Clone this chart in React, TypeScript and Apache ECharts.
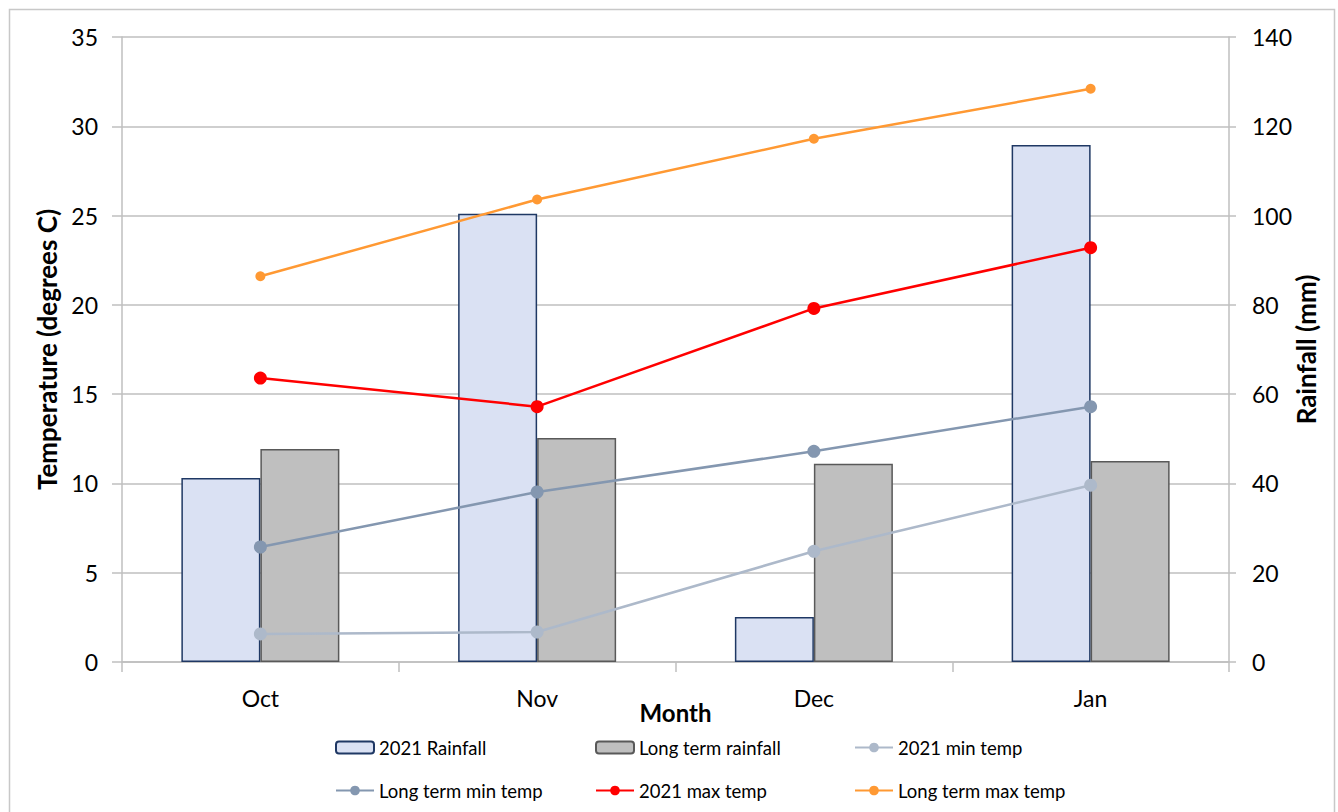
import React, { useEffect, useRef } from "react";
import * as echarts from "echarts";

const months = ["Oct", "Nov", "Dec", "Jan"];
const rain2021 = [41.2, 100.4, 10.1, 115.8];
const rainLongTerm = [47.7, 50.2, 44.4, 45.0];
const minTemp2021 = [1.57, 1.68, 6.2, 9.9];
const minTempLongTerm = [6.44, 9.52, 11.8, 14.3];
const maxTemp2021 = [15.9, 14.3, 19.8, 23.2];
const maxTempLongTerm = [21.6, 25.9, 29.3, 32.1];

const FONT = "Lato";

export default function App() {
  const ref = useRef<HTMLDivElement>(null);
  useEffect(() => {
    const chart = echarts.init(ref.current!, null, { renderer: "svg" });
    const lineSeries = (name: string, data: number[], color: string, size: number) => ({
      name,
      type: "line",
      yAxisIndex: 0,
      data,
      symbol: "circle",
      symbolSize: size,
      itemStyle: { color },
      lineStyle: { color, width: 2.5 },
      z: 5,
    });
    const legendText = { fontFamily: FONT, fontSize: 18.5, color: "#000" };
    const mkLegend = (name: string, left: number, top: number) => ({
      data: [name],
      left,
      top,
      itemWidth: 38,
      itemHeight: 12,
      itemGap: 4,
      textStyle: legendText,
      padding: 0,
      selectedMode: false,
    });
    const titleStyle = { fontFamily: FONT, fontSize: 26, fontWeight: "bold", color: "#000" };
    const tickLabel = { fontFamily: FONT, fontSize: 23, color: "#000" };
    chart.setOption({
      animation: false,
      backgroundColor: "#fff",
      textStyle: { fontFamily: FONT },
      graphic: [
        {
          type: "rect",
          shape: { x: 9.5, y: 9.5, width: 1325, height: 810 },
          style: { fill: "none", stroke: "#c8c8c8", lineWidth: 1.5 },
          silent: true,
        },
      ],
      grid: { left: 122, right: 109, top: 37, bottom: 150 },
      legend: [
        mkLegend("2021 Rainfall", 335, 738),
        mkLegend("Long term rainfall", 595, 738),
        mkLegend("2021 min temp", 854, 738),
        mkLegend("Long term min temp", 335, 781),
        mkLegend("2021 max temp", 595, 781),
        mkLegend("Long term max temp", 854, 781),
      ],
      xAxis: {
        type: "category",
        data: months,
        name: "Month",
        nameLocation: "middle",
        nameGap: 38,
        nameMoveOverlap: false,
        nameTextStyle: { ...titleStyle, fontSize: 24 },
        axisLine: { lineStyle: { color: "#bfbfbf", width: 1.5 } },
        axisTick: { show: true, length: 10, lineStyle: { color: "#bfbfbf", width: 1.5 } },
        axisLabel: { ...tickLabel, margin: 24 },
      },
      yAxis: [
        {
          type: "value",
          min: 0,
          max: 35,
          interval: 5,
          position: "left",
          name: "Temperature (degrees C)",
          nameLocation: "middle",
          nameGap: 62,
          nameMoveOverlap: false,
          nameTextStyle: titleStyle,
          axisLine: { show: true, lineStyle: { color: "#bfbfbf", width: 1.5 } },
          axisTick: { show: true, length: 10, lineStyle: { color: "#bfbfbf", width: 1.5 } },
          axisLabel: { ...tickLabel, margin: 24 },
          splitLine: { show: true, lineStyle: { color: "#bfbfbf", width: 1.5 } },
        },
        {
          type: "value",
          min: 0,
          max: 140,
          interval: 20,
          position: "right",
          name: "Rainfall (mm)",
          nameLocation: "middle",
          nameGap: 64,
          nameRotate: 90,
          nameMoveOverlap: false,
          nameTextStyle: titleStyle,
          axisLine: { show: true, lineStyle: { color: "#bfbfbf", width: 1.5 } },
          axisTick: { show: true, length: 7, lineStyle: { color: "#bfbfbf", width: 1.5 } },
          axisLabel: { ...tickLabel, margin: 23 },
          splitLine: { show: false },
        },
      ],
      series: [
        {
          name: "2021 Rainfall",
          type: "bar",
          yAxisIndex: 1,
          data: rain2021,
          barWidth: 79,
          barGap: "0%",
          itemStyle: { color: "#dae1f3", borderColor: "#1f3864", borderWidth: 1.5 },
        },
        {
          name: "Long term rainfall",
          type: "bar",
          yAxisIndex: 1,
          data: rainLongTerm,
          barWidth: 79,
          barGap: "0%",
          itemStyle: { color: "#bfbfbf", borderColor: "#595959", borderWidth: 1.5 },
        },
        lineSeries("2021 min temp", minTemp2021, "#adb9ca", 13),
        lineSeries("Long term min temp", minTempLongTerm, "#8497b0", 13),
        lineSeries("2021 max temp", maxTemp2021, "#ff0000", 13),
        lineSeries("Long term max temp", maxTempLongTerm, "#ff9933", 10),
      ],
    });
    return () => chart.dispose();
  }, []);
  return (
    <div
      ref={ref}
      style={{ position: "fixed", left: 0, top: 0, width: 1338, height: 812 }}
    />
  );
}
